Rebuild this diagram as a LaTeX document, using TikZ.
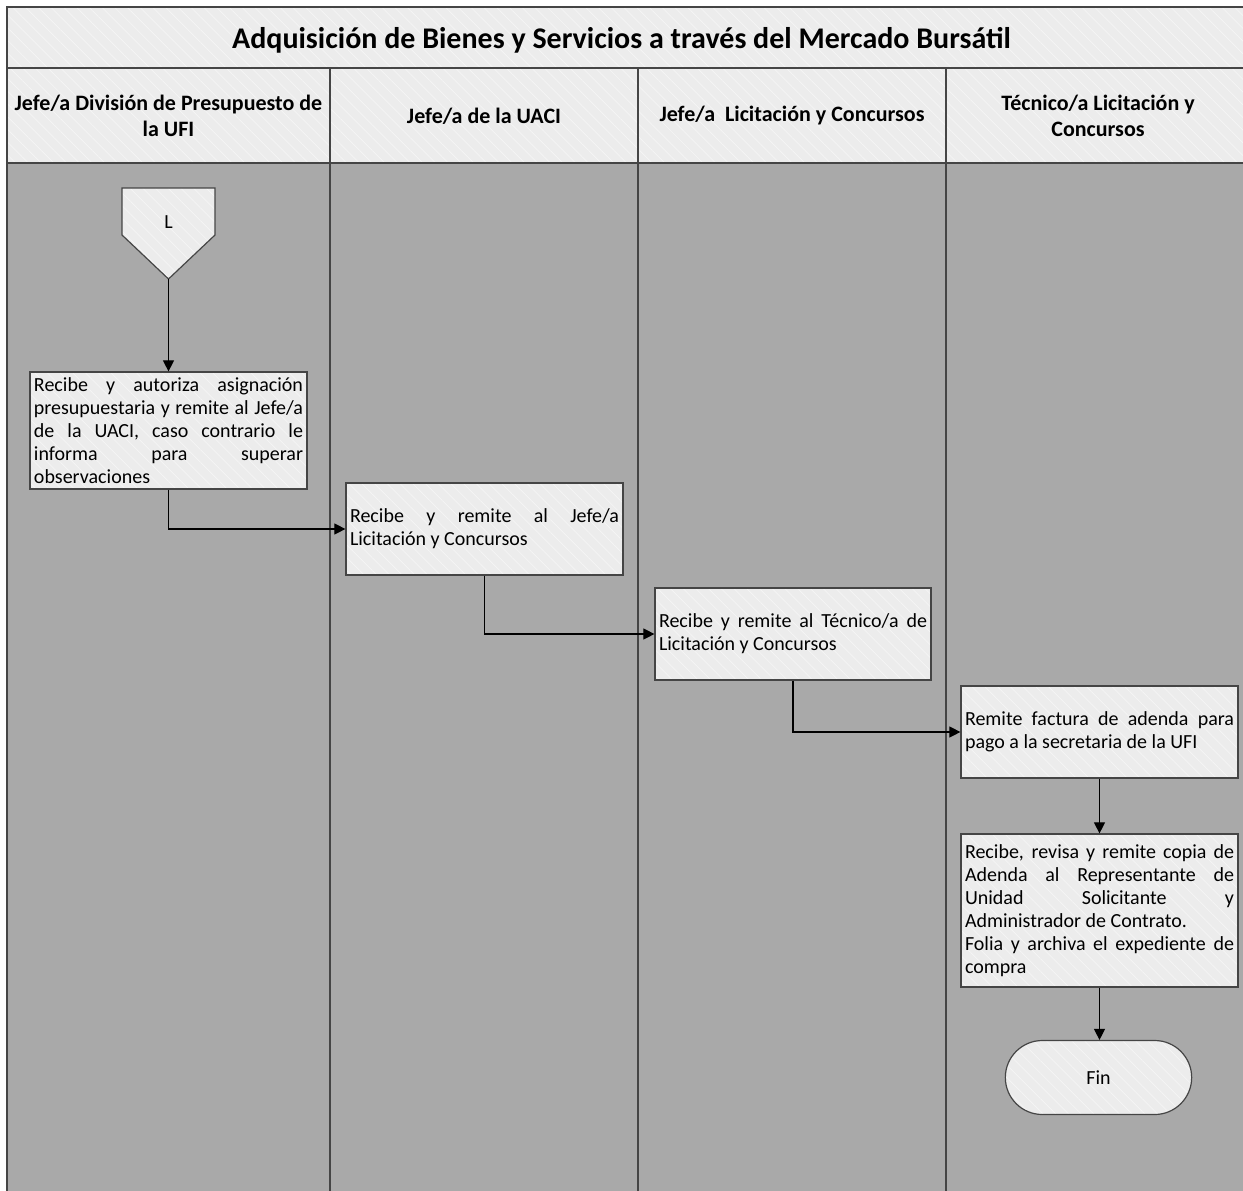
\documentclass[tikz,border=0pt]{standalone}
\usepackage{fontspec}
\setmainfont{Carlito}
\usetikzlibrary{arrows.meta,patterns.meta,shapes.misc}
\definecolor{bodygray}{HTML}{A9A9A9}
\definecolor{lightfill}{HTML}{ECECEC}
\definecolor{edgecol}{HTML}{454545}
\definecolor{hatchcol}{HTML}{F5F5F5}
\newcommand\jline[1]{\makebox[\hsize][s]{#1}}
\tikzset{
  hatched/.style={preaction={fill=lightfill}, pattern={Lines[angle=-45,distance=9pt,line width=0.7pt]}, pattern color=hatchcol},
  bodyfont/.style={font=\fontsize{20}{23}\selectfont},
  stepbox/.style={draw=edgecol, line width=1.2pt, hatched, inner xsep=4pt, inner ysep=1pt, text width=269pt, align=justify, bodyfont},
  headtext/.style={font=\bfseries\fontsize{22}{26}\selectfont, align=center},
  frameline/.style={draw=edgecol, line width=1.8pt},
  arr/.style={draw=black, line width=1.1pt, -{Triangle[length=11pt,width=11pt]}},
}
\begin{document}
\begin{tikzpicture}[x=1pt,y=-1pt]
\useasboundingbox (0,0) rectangle (1243,1191);
\clip (0,0) rectangle (1243,1191);
\fill[white] (0,0) rectangle (1243,1191);
% frame
\fill[bodygray] (7,163) rectangle (1252,1200);
\path[hatched] (7,7) rectangle (1252,163);
\draw[frameline] (7,1200) -- (7,7) -- (1252,7);
\draw[frameline] (7,68) -- (1252,68);
\draw[frameline] (7,163) -- (1252,163);
\draw[frameline] (330,68) -- (330,1200);
\draw[frameline] (638,68) -- (638,1200);
\draw[frameline] (946,68) -- (946,1200);
% title and headers
\node[font=\bfseries\fontsize{30}{34}\selectfont] (title) at (621.5,40) {Adquisición de Bienes y Servicios a través del Mercado Bursátil};
\node[headtext] (h1) at (168.5,116) {Jefe/a División de Presupuesto de\\la UFI};
\node[headtext] (h2) at (484,116) {Jefe/a de la UACI};
\node[headtext] (h3) at (792,116) {Jefe/a\ \ Licitación y Concursos};
\node[headtext] (h4) at (1098,116) {Técnico/a Licitación y\\Concursos};
% off-page connector
\path[draw=edgecol, line width=1.2pt, hatched] (122,188) -- (215,188) -- (215,235) -- (168.5,279) -- (122,235) -- cycle;
\node[bodyfont] (L) at (168.5,222) {L};
\coordinate (Ltip) at (168.5,279);
% process boxes
\node[stepbox, minimum height=117pt] (b1) at (168.5,430.5) {%
\jline{Recibe y autoriza asignación}\\
\jline{presupuestaria y remite al Jefe/a}\\
\jline{de la UACI, caso contrario le}\\
\jline{informa para superar}\\
observaciones};
\node[stepbox, minimum height=92pt] (b2) at (484.5,529) {%
\jline{Recibe y remite al Jefe/a}\\
Licitación y Concursos};
\node[stepbox, minimum height=92pt, text width=268pt] (b3) at (793,634) {%
\jline{Recibe y remite al Técnico/a de}\\
Licitación y Concursos};
\node[stepbox, minimum height=92pt] (b4) at (1099.5,732) {%
\jline{Remite factura de adenda para}\\
pago a la secretaria de la UFI};
\node[stepbox, minimum height=153pt] (b5) at (1099.5,910.5) {%
\jline{Recibe, revisa y remite copia de}\\
\jline{Adenda al Representante de}\\
\jline{Unidad Solicitante y}\\
Administrador de Contrato.\\
\jline{Folia y archiva el expediente de}\\
compra};
\node[rounded rectangle, draw=edgecol, line width=1.2pt, hatched, minimum width=193pt, minimum height=74pt, bodyfont] (fin) at (1098.5,1077.5) {Fin};
% connectors
\draw[arr] (Ltip) -- (b1.north);
\draw[arr] (b1.south) |- (b2.west);
\draw[arr] (b2.south) |- (b3.west);
\draw[arr] (b3.south) |- (b4.west);
\draw[arr] (b4.south) -- (b5.north);
\draw[arr] (b5.south) -- (b5.south |- fin.north);
\end{tikzpicture}
\end{document}
